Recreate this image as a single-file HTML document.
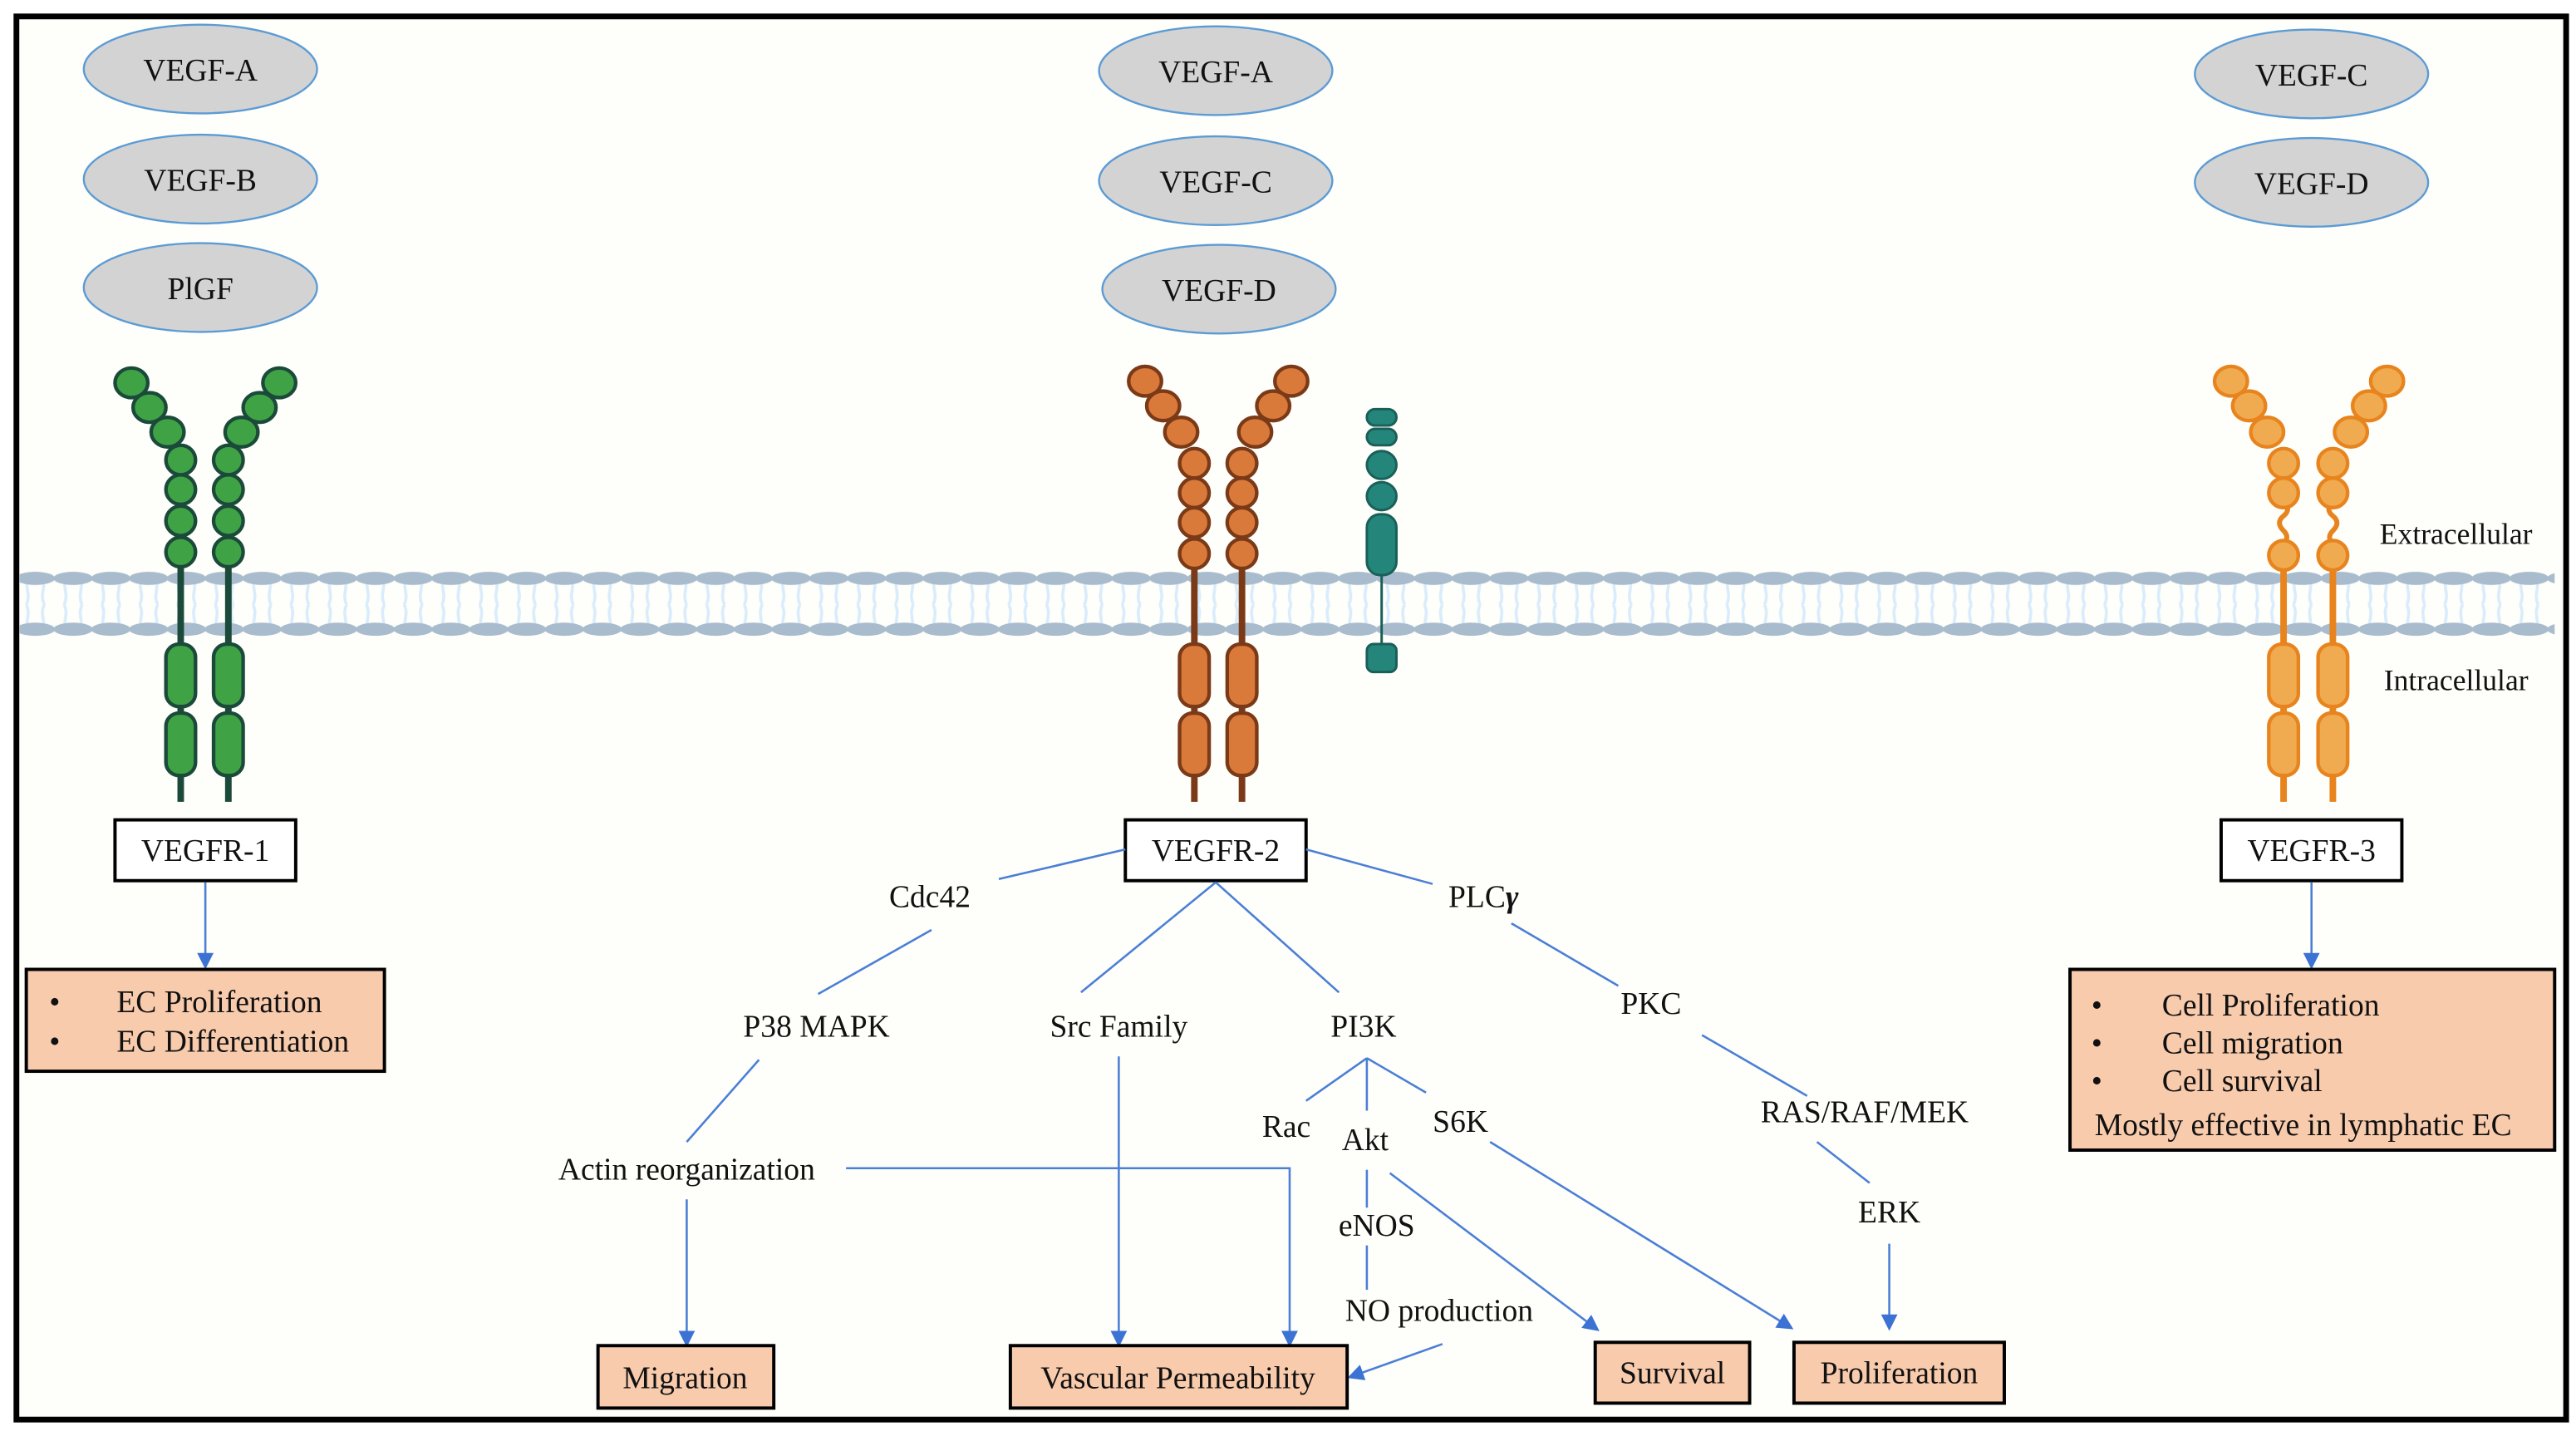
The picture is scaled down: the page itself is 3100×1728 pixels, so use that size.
<!DOCTYPE html>
<html><head><meta charset="utf-8"><style>
html,body{margin:0;padding:0;background:#fff;}
svg{display:block;}
text{font-family:"Liberation Serif","Times New Roman",serif;fill:#111;}
</style></head><body>
<svg width="3100" height="1728" viewBox="0 0 1568 874" preserveAspectRatio="none" xmlns="http://www.w3.org/2000/svg" font-family="Liberation Serif, serif">
<defs>
<pattern id="mem" x="10" y="340" width="23" height="56" patternUnits="userSpaceOnUse">
<path d="M7 12 C5 18 9 22 6 28 M16 12 C18 18 14 22 17 28 M6 28 C9 34 5 38 7 44 M17 28 C14 34 18 38 16 44" stroke="#d9ecfc" stroke-width="1.8" fill="none"/>
<ellipse cx="11.5" cy="12" rx="12" ry="4" fill="#a9bccd"/>
<ellipse cx="11.5" cy="43" rx="12" ry="4" fill="#a9bccd"/>
</pattern>
<marker id="ar" markerWidth="10" markerHeight="10" refX="8" refY="5" orient="auto" markerUnits="userSpaceOnUse">
<path d="M0 0 L10 5 L0 10 Z" fill="#3c72d4"/>
</marker>
</defs>
<rect x="0" y="0" width="1568" height="874" fill="#fff"/>
<rect x="10" y="10" width="1552" height="854" fill="#fefefa" stroke="#000" stroke-width="3.5"/>
<rect x="12" y="340" width="1543" height="56" fill="url(#mem)"/>

<g fill="#d3d3d3" stroke="#5b9bd5" stroke-width="1.2">
<ellipse cx="122" cy="42" rx="71" ry="27"/><ellipse cx="122" cy="109" rx="71" ry="27"/><ellipse cx="122" cy="175" rx="71" ry="27"/>
<ellipse cx="740" cy="43" rx="71" ry="27"/><ellipse cx="740" cy="110" rx="71" ry="27"/><ellipse cx="742" cy="176" rx="71" ry="27"/>
<ellipse cx="1407" cy="45" rx="71" ry="27"/><ellipse cx="1407" cy="111" rx="71" ry="27"/>
</g>
<g font-size="19" text-anchor="middle" font-family="Liberation Serif, serif">
<text x="122" y="49">VEGF-A</text><text x="122" y="116">VEGF-B</text><text x="122" y="182">PlGF</text>
<text x="740" y="50">VEGF-A</text><text x="740" y="117">VEGF-C</text><text x="742" y="183">VEGF-D</text>
<text x="1407" y="52">VEGF-C</text><text x="1407" y="118">VEGF-D</text>
</g>

<g stroke="#1b4a3a" stroke-width="2.2" fill="#3fa345">
<line x1="110" y1="335" x2="110" y2="488" stroke-width="4"/><line x1="139" y1="335" x2="139" y2="488" stroke-width="4"/>
<ellipse cx="80" cy="233" rx="10" ry="9"/><ellipse cx="91" cy="248" rx="10" ry="9"/><ellipse cx="102" cy="263" rx="10" ry="9"/>
<circle cx="110" cy="280" r="9"/><circle cx="110" cy="298" r="9"/><circle cx="110" cy="317" r="9"/><circle cx="110" cy="336" r="9"/>
<ellipse cx="170" cy="233" rx="10" ry="9"/><ellipse cx="158" cy="248" rx="10" ry="9"/><ellipse cx="147" cy="263" rx="10" ry="9"/>
<circle cx="139" cy="280" r="9"/><circle cx="139" cy="298" r="9"/><circle cx="139" cy="317" r="9"/><circle cx="139" cy="336" r="9"/>
<rect x="101" y="392" width="18" height="38" rx="8"/><rect x="101" y="434" width="18" height="38" rx="8"/>
<rect x="130" y="392" width="18" height="38" rx="8"/><rect x="130" y="434" width="18" height="38" rx="8"/>
</g>

<g stroke="#7a3a18" stroke-width="2.2" fill="#d9793a">
<line x1="727" y1="337" x2="727" y2="488" stroke-width="4"/><line x1="756" y1="337" x2="756" y2="488" stroke-width="4"/>
<ellipse cx="697" cy="232" rx="10" ry="9"/><ellipse cx="708" cy="247" rx="10" ry="9"/><ellipse cx="719" cy="263" rx="10" ry="9"/>
<circle cx="727" cy="282" r="9"/><circle cx="727" cy="300" r="9"/><circle cx="727" cy="318" r="9"/><circle cx="727" cy="337" r="9"/>
<ellipse cx="786" cy="232" rx="10" ry="9"/><ellipse cx="775" cy="247" rx="10" ry="9"/><ellipse cx="764" cy="263" rx="10" ry="9"/>
<circle cx="756" cy="282" r="9"/><circle cx="756" cy="300" r="9"/><circle cx="756" cy="318" r="9"/><circle cx="756" cy="337" r="9"/>
<rect x="718" y="392" width="18" height="38" rx="8"/><rect x="718" y="434" width="18" height="38" rx="8"/>
<rect x="747" y="392" width="18" height="38" rx="8"/><rect x="747" y="434" width="18" height="38" rx="8"/>
</g>
<g stroke="#1a5f58" stroke-width="1.5" fill="#24857a">
<line x1="841" y1="345" x2="841" y2="395" stroke-width="1.5"/>
<rect x="832" y="249" width="18" height="10" rx="5"/><rect x="832" y="261" width="18" height="10" rx="5"/>
<ellipse cx="841" cy="283" rx="9" ry="8.5"/><ellipse cx="841" cy="302" rx="9" ry="8.5"/>
<rect x="832" y="313" width="18" height="37" rx="8"/>
<rect x="832" y="392" width="18" height="17" rx="4"/>
</g>

<g stroke="#e8841e" stroke-width="2.2" fill="#f0aa50">
<line x1="1390" y1="337" x2="1390" y2="488" stroke-width="4"/><line x1="1420" y1="337" x2="1420" y2="488" stroke-width="4"/>
<path d="M1390 305 q5 5 0 9 q-5 4 0 9 q4 4 0 8" fill="none" stroke-width="3"/>
<path d="M1420 305 q-5 5 0 9 q5 4 0 9 q-4 4 0 8" fill="none" stroke-width="3"/>
<ellipse cx="1358" cy="232" rx="10" ry="9"/><ellipse cx="1369" cy="247" rx="10" ry="9"/><ellipse cx="1380" cy="263" rx="10" ry="9"/>
<circle cx="1390" cy="282" r="9"/><circle cx="1390" cy="300" r="9"/><circle cx="1390" cy="338" r="9"/>
<ellipse cx="1453" cy="232" rx="10" ry="9"/><ellipse cx="1442" cy="247" rx="10" ry="9"/><ellipse cx="1431" cy="263" rx="10" ry="9"/>
<circle cx="1420" cy="282" r="9"/><circle cx="1420" cy="300" r="9"/><circle cx="1420" cy="338" r="9"/>
<rect x="1381" y="392" width="18" height="38" rx="8"/><rect x="1381" y="434" width="18" height="38" rx="8"/>
<rect x="1411" y="392" width="18" height="38" rx="8"/><rect x="1411" y="434" width="18" height="38" rx="8"/>
</g>
<text x="1495" y="331" font-size="18" text-anchor="middle" font-family="Liberation Serif, serif">Extracellular</text>
<text x="1495" y="420" font-size="18" text-anchor="middle" font-family="Liberation Serif, serif">Intracellular</text>

<g fill="#fff" stroke="#000" stroke-width="2">
<rect x="70" y="499" width="110" height="37"/><rect x="685" y="499" width="110" height="37"/><rect x="1352" y="499" width="110" height="37"/>
</g>
<g font-size="19" text-anchor="middle" font-family="Liberation Serif, serif">
<text x="125" y="524">VEGFR-1</text><text x="740" y="524">VEGFR-2</text><text x="1407" y="524">VEGFR-3</text>
</g>

<g stroke="#4a7fd6" stroke-width="1.3" fill="none">
<line x1="125" y1="537" x2="125" y2="588" marker-end="url(#ar)"/>
<line x1="1407" y1="537" x2="1407" y2="588" marker-end="url(#ar)"/>
<line x1="685" y1="517" x2="608" y2="535"/>
<line x1="795" y1="517" x2="872" y2="538"/>
<line x1="740" y1="537" x2="658" y2="604"/>
<line x1="740" y1="537" x2="815" y2="604"/>
<line x1="567" y1="566" x2="498" y2="605"/>
<line x1="920" y1="562" x2="985" y2="600"/>
<line x1="1036" y1="630" x2="1100" y2="667"/>
<line x1="1106" y1="695" x2="1138" y2="720"/>
<line x1="462" y1="645" x2="418" y2="695"/>
<line x1="418" y1="730" x2="418" y2="818" marker-end="url(#ar)"/>
<line x1="681" y1="643" x2="681" y2="818" marker-end="url(#ar)"/>
<polyline points="515,711 785,711 785,818" marker-end="url(#ar)"/>
<line x1="832" y1="644" x2="795" y2="670"/>
<line x1="832" y1="644" x2="868" y2="665"/>
<line x1="832" y1="644" x2="832" y2="676"/>
<line x1="832" y1="712" x2="832" y2="735"/>
<line x1="832" y1="758" x2="832" y2="785"/>
<line x1="846" y1="714" x2="972" y2="809" marker-end="url(#ar)"/>
<line x1="907" y1="695" x2="1090" y2="808" marker-end="url(#ar)"/>
<line x1="1150" y1="757" x2="1150" y2="808" marker-end="url(#ar)"/>
<line x1="878" y1="818" x2="822" y2="838" marker-end="url(#ar)"/>
</g>

<g font-size="19" text-anchor="middle" font-family="Liberation Serif, serif">
<text x="566" y="552">Cdc42</text>
<text x="903" y="552">PLC<tspan font-weight="bold" font-style="italic">γ</tspan></text>
<text x="497" y="631">P38 MAPK</text>
<text x="681" y="631">Src Family</text>
<text x="830" y="631">PI3K</text>
<text x="1005" y="617">PKC</text>
<text x="1135" y="683">RAS/RAF/MEK</text>
<text x="1150" y="744">ERK</text>
<text x="783" y="692">Rac</text>
<text x="831" y="700">Akt</text>
<text x="889" y="689">S6K</text>
<text x="418" y="718">Actin reorganization</text>
<text x="838" y="752">eNOS</text>
<text x="876" y="804">NO production</text>
</g>

<g fill="#f8cbad" stroke="#000" stroke-width="2">
<rect x="16" y="590" width="218" height="62"/>
<rect x="1260" y="590" width="295" height="110"/>
<rect x="364" y="819" width="107" height="38"/>
<rect x="615" y="819" width="205" height="38"/>
<rect x="971" y="817" width="94" height="37"/>
<rect x="1092" y="817" width="128" height="37"/>
</g>
<g font-size="19" font-family="Liberation Serif, serif">
<text x="30" y="616">•</text><text x="71" y="616">EC Proliferation</text>
<text x="30" y="640">•</text><text x="71" y="640">EC Differentiation</text>
<text x="1273" y="618">•</text><text x="1316" y="618">Cell Proliferation</text>
<text x="1273" y="641">•</text><text x="1316" y="641">Cell migration</text>
<text x="1273" y="664">•</text><text x="1316" y="664">Cell survival</text>
<text x="1275" y="691">Mostly effective in lymphatic EC</text>
</g>
<g font-size="19" text-anchor="middle" font-family="Liberation Serif, serif">
<text x="417" y="845">Migration</text>
<text x="717" y="845">Vascular Permeability</text>
<text x="1018" y="842">Survival</text>
<text x="1156" y="842">Proliferation</text>
</g>
</svg>
</body></html>
